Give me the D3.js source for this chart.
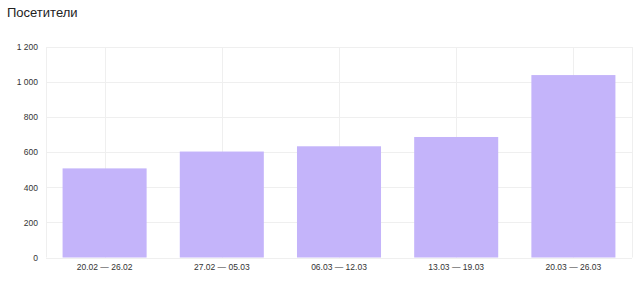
<!DOCTYPE html>
<html>
<head>
<meta charset="utf-8">
<script src="https://cdn.jsdelivr.net/npm/d3@7"></script>
<style>
  body { margin: 0; background: #fff; }
  text { font-family: "Liberation Sans", Arial, sans-serif; }
  .grid line { stroke: #efefef; stroke-width: 1; }
</style>
</head>
<body>
<div id="chart"></div>
<script>
"use strict";

var width = 640;
var height = 308;
var margin = {top: 47, right: 8, bottom: 50.5, left: 46};

var weeks = ["20.02 — 26.02", "27.02 — 05.03", "06.03 — 12.03", "13.03 — 19.03", "20.03 — 26.03"];
var visitors = [508, 604, 634, 687, 1040];
var yTicks = [0, 200, 400, 600, 800, 1000, 1200];

var plotW = width - margin.left - margin.right;
var plotH = height - margin.top - margin.bottom;

var xScale = d3.scaleBand()
               .domain(weeks)
               .range([margin.left, margin.left + plotW])
               .paddingInner(0.283)
               .paddingOuter(0.1415);

var yScale = d3.scaleLinear()
               .domain([0, 1200])
               .range([margin.top + plotH, margin.top]);

var svg = d3.select("#chart")
            .append("svg")
            .attr("width", width)
            .attr("height", height);

// title
svg.append("text")
   .attr("x", 7)
   .attr("y", 17)
   .style("font-size", "13px")
   .attr("fill", "#222")
   .text("Посетители");

// horizontal grid
svg.append("g")
   .attr("class", "grid")
   .selectAll("line")
   .data(yTicks)
   .enter()
   .append("line")
   .attr("x1", margin.left)
   .attr("x2", margin.left + plotW)
   .attr("y1", function(d) { return Math.round(yScale(d)) + 0.5; })
   .attr("y2", function(d) { return Math.round(yScale(d)) + 0.5; });

// vertical grid at band centers + borders
var vLines = weeks.map(function(w) { return xScale(w) + xScale.bandwidth() / 2; });
vLines.push(margin.left, margin.left + plotW);
svg.append("g")
   .attr("class", "grid")
   .selectAll("line")
   .data(vLines)
   .enter()
   .append("line")
   .attr("x1", function(d) { return Math.round(d) + 0.5; })
   .attr("x2", function(d) { return Math.round(d) + 0.5; })
   .attr("y1", margin.top)
   .attr("y2", margin.top + plotH);

// bars
svg.selectAll("rect.bar")
   .data(visitors)
   .enter()
   .append("rect")
   .attr("class", "bar")
   .attr("x", function(d, i) { return xScale(weeks[i]); })
   .attr("y", function(d) { return yScale(d); })
   .attr("width", xScale.bandwidth())
   .attr("height", function(d) { return yScale(0) - yScale(d); })
   .attr("fill", "#c4b4fa");

// y axis
var yAxis = d3.axisLeft(yScale)
              .tickValues(yTicks)
              .tickSize(0)
              .tickPadding(8)
              .tickFormat(function(d) { return d >= 1000 ? d3.format(",")(d).replace(",", " ") : d; });

svg.append("g")
   .attr("transform", "translate(" + margin.left + ",0)")
   .call(yAxis)
   .call(function(g) { g.select(".domain").remove(); })
   .selectAll("text")
   .style("font-size", "8.5px")
   .attr("fill", "#333");

// x axis
var xAxis = d3.axisBottom(xScale).tickSize(0).tickPadding(6);

svg.append("g")
   .attr("transform", "translate(0," + (margin.top + plotH) + ")")
   .call(xAxis)
   .call(function(g) { g.select(".domain").remove(); })
   .selectAll("text")
   .style("font-size", "8.5px")
   .attr("fill", "#333");
</script>
</body>
</html>
